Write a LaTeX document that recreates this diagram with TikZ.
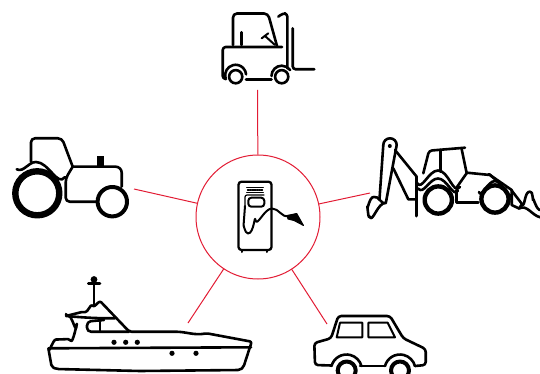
\documentclass[tikz,border=0pt]{standalone}
\definecolor{accent}{RGB}{226,28,52}
\tikzset{
  link/.style={draw=accent,line width=1pt},
  ink/.style={draw=black,line width=2.6pt,line cap=round,line join=round},
  inkthin/.style={draw=black,line width=2pt,line cap=round,line join=round}
}
\begin{document}
\begin{tikzpicture}[x=1pt,y=-1pt]
\useasboundingbox (0,0) rectangle (540,374);
\clip (0,0) rectangle (540,374);
% hub and connectors
\node[circle,minimum size=124pt,inner sep=0pt,link] (hub) at (258,217) {};
\coordinate (top) at (257.6,90);
\coordinate (left) at (134,189);
\coordinate (right) at (370,193);
\coordinate (ll) at (188,323);
\coordinate (lr) at (327,324);
\foreach \e in {top,left,right,ll,lr} \draw[link] (hub) -- (\e);
% forklift
\begin{scope}[ink]
\draw[rounded corners=4pt] (233,45) -- (233,13.5) -- (268,13.5) -- (277,46);
\draw[rounded corners=3pt] (282,47) -- (222.7,47) -- (222.7,79) -- (226,79);
\draw (225.5,78) arc[start angle=165,end angle=355,radius=10.5];
\draw (246,79.3) -- (271.5,79.3);
\draw (271.5,76) arc[start angle=180,end angle=325,radius=10.3];
\draw[rounded corners=3pt] (287.3,68.3) -- (287.3,13.5) -- (282.5,13.5) -- (278.3,16.7);
\draw[rounded corners=3pt] (292.7,28.3) -- (292.7,69.3) -- (314.3,69.3);
\draw (241.7,32.3) -- (241.7,45);
\draw[inkthin] (261.7,38.3) -- (268.3,33.3) (265,36) -- (275,45);
\draw (235.7,76.7) circle[radius=6.6];
\draw (281.7,76.7) circle[radius=6.6];
\end{scope}
% tractor
\begin{scope}[ink]
\draw[line width=6.4pt] (37.3,193.3) circle[radius=22];
\draw[line width=4pt] (112.3,201.7) circle[radius=14.7];
\draw (16.7,169.3) to[out=-25,in=180] (36,162) to[out=0,in=-125] (65,177);
\draw[rounded corners=4pt] (31,161.7) -- (31,138.3) -- (62,138.3) -- (72.7,166.7);
\draw[rounded corners=6pt] (72.7,166.7) -- (121.7,166.7) -- (121.7,186.7);
\draw[rounded corners=4pt] (72.7,166.7) -- (65.7,178.3) -- (65.7,201.7) -- (97,201.7);
\fill (96.7,155.7) rectangle (104.3,167);
\end{scope}
% backhoe
\begin{scope}[ink]
\draw (379.5,199) -- (383.3,145) arc[start angle=180,end angle=360,radius=6.7] -- (386,202);
\fill (389.8,146) circle[radius=2];
\draw (395,150) -- (416.7,176.7);
\draw (393.3,168.3) -- (408.3,199.3) -- (415,199.3);
\draw[line width=3pt] (416,176.7) -- (416,216);
\draw[fill=white] (386,203) to[out=-150,in=20] (374,197) to[out=170,in=-90] (367.3,207) to[out=90,in=-110] (369.5,216.5) to[out=-70,in=170] (386,203) -- cycle;
\draw[line width=4.4pt] (438.3,200) circle[radius=13.6];
\draw[line width=4.4pt] (495,199) circle[radius=13.6];
\draw (417,183) to[out=-60,in=180] (438,170.5) to[out=0,in=-130] (460,187);
\draw (418,188.5) to[out=-50,in=180] (438,178.5) to[out=0,in=-120] (458,190.5);
\draw[rounded corners=3pt] (423.3,173.3) -- (429,150.7) -- (465,147.7);
\draw (440.7,150) -- (440.7,171.7);
\draw (461.7,149.3) -- (466.7,173.3);
\draw (457,187) -- (467,172.7) -- (490,175) -- (511.7,190);
\draw (479,192) to[out=-75,in=180] (495,181) to[out=0,in=-110] (511,195);
\draw (489,174) -- (497,181);
\draw (456.7,190) -- (456.7,202.7) -- (478.3,202.7);
\draw (511.7,190) -- (511.7,205) -- (519,208.5) to[out=30,in=170] (541,217.5);
\draw (512,191) -- (522,204);
\draw (519,208.5) -- (522,204) to[out=-60,in=170] (530,191.7) to[out=30,in=-90] (533,200) to[out=90,in=-160] (541,210);
\end{scope}
% fuel pump
\begin{scope}[inkthin]
\draw[line width=2.3pt,rounded corners=3pt] (238.5,181.7) rectangle (271.5,250);
\draw[line width=2pt] (242,250) -- (242,252) (267,250) -- (267,252);
\draw[line width=1pt] (246.7,187.8) -- (263.3,187.8);
\draw[line width=1pt] (246.7,192.3) -- (263.3,192.3);
\draw[line width=1.4pt,dash pattern=on 1.5pt off 0.8pt] (247.5,190) -- (262.5,190);
\draw[rounded corners=3pt] (248.3,197.7) rectangle (264.3,206.7);
\draw[line width=1.2pt,rounded corners=2pt] (245,206) -- (245,195) -- (264,195);
\draw (245,206) -- (243.5,226) to[out=90,in=180] (248,233.5) to[out=0,in=100] (255.5,220) to[out=-80,in=180] (272,208.5) to[out=0,in=-165] (288.5,216);
\draw[fill=black,line width=1pt] (287,215.5) -- (296.7,213.5) -- (303.5,225.5) -- (294,220.5) -- (288,219) -- cycle;
\end{scope}
% boat
\begin{scope}[ink]
\draw[rounded corners=2pt] (66,316) to[out=15,in=-100] (76.5,326) to[out=80,in=-60] (70,339) -- (58,339.5) to[out=180,in=-80] (48.3,348) -- (51.7,367) -- (56.7,369) -- (140,371) -- (240,370) -- (243.5,367) -- (251.7,341.7) -- (206.7,333.3) to[out=-170,in=0] (173.3,331.7) -- (129.3,331.7) -- (100,301) -- (93.5,307) to[out=130,in=-10] (83.3,311.7) -- (66,316) -- cycle;
\draw (48.3,348.3) -- (251,347.3);
\draw (66,316) to[out=-5,in=180] (115,318.3);
\draw[rounded corners=4pt] (104,320) -- (87,321.5) -- (87,331.7) -- (129,331.7);
\draw[line width=2pt] (100,321.7) -- (100,331.7);
\draw (94,283.3) -- (94,305);
\draw (88.3,283.3) -- (100,283.3);
\end{scope}
\fill (94,279.5) circle[radius=3.4];
\foreach \p in {(114,342.3),(125.7,342.3),(137.3,342.3),(172,353.3),(196,353.3)} \fill \p circle[radius=2.6];
% car
\begin{scope}[ink]
\draw[rounded corners=3pt] (331.5,365.5) -- (315,365) -- (314.3,343) -- (331,338.3) -- (338.3,316) -- (390,316) -- (403.3,338.3) -- (425.7,349) -- (425.7,365) -- (415,366);
\draw (331.5,366) arc[start angle=195,end angle=345,radius=15.5];
\draw (360,366) -- (385,366);
\draw (385,366) arc[start angle=195,end angle=345,radius=15.5];
\draw[line width=2pt] (340,322.7) -- (362.3,322.7) -- (362.3,337.3) -- (336.7,337.3) -- cycle;
\draw[line width=2pt] (368.3,322.7) -- (387.7,322.7) -- (395,337.3) -- (368.3,337.3) -- cycle;
\draw[line width=4pt] (346.7,370.5) circle[radius=9];
\draw[line width=4pt] (400,370.5) circle[radius=9];
\end{scope}
\end{tikzpicture}
\end{document}
